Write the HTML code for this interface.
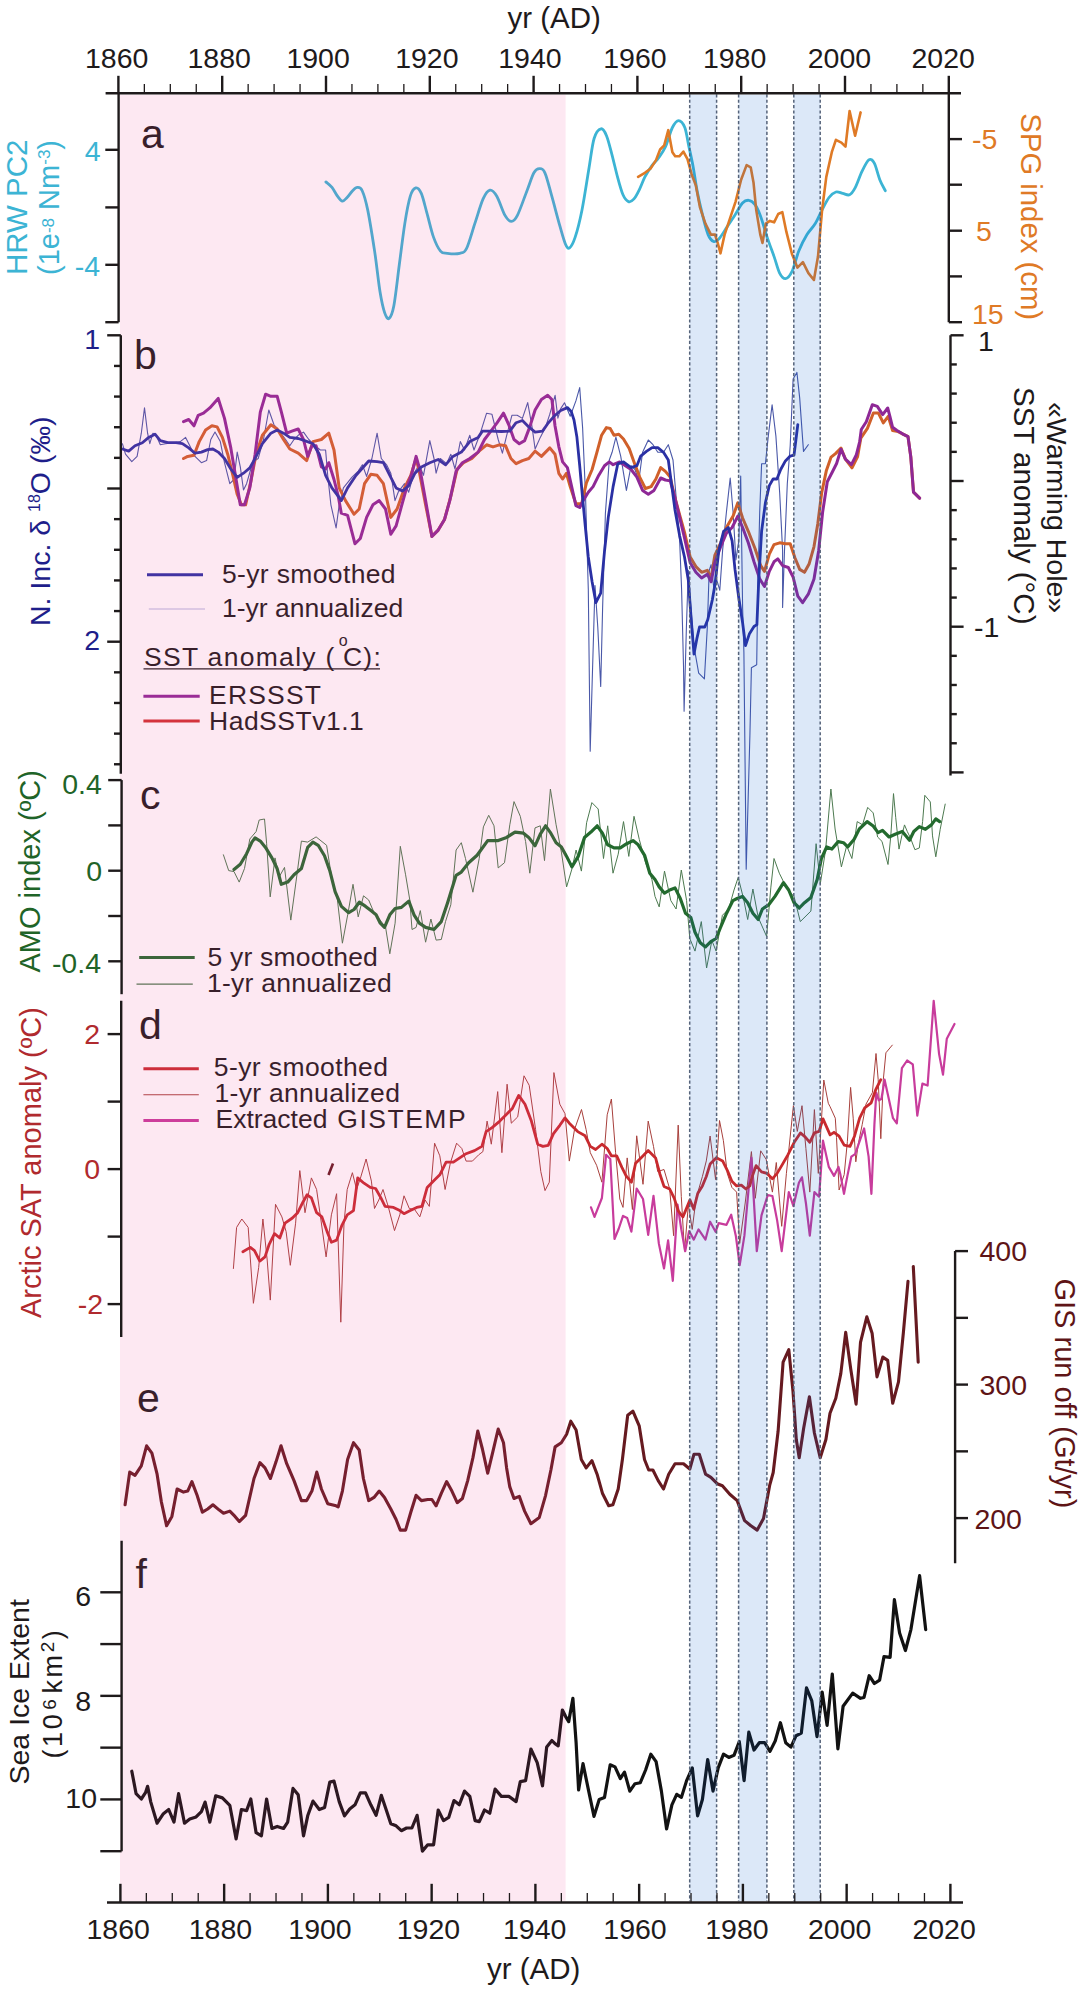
<!DOCTYPE html>
<html><head><meta charset="utf-8"><style>
html,body{margin:0;padding:0;background:#fff;overflow:hidden;}
svg{display:block;}
text{font-family:"Liberation Sans",sans-serif;}
</style></head><body>
<svg width="1092" height="1996" viewBox="0 0 1092 1996">
<rect x="0" y="0" width="1092" height="1996" fill="#fff"/>
<path d="M325.9,181.9 C326.9,182.8 330.1,185.0 332.0,187.4 C333.9,189.8 335.8,193.9 337.5,196.2 C339.2,198.5 340.8,200.9 342.4,201.1 C344.0,201.3 345.4,199.2 347.1,197.5 C348.8,195.8 350.9,192.4 352.6,190.7 C354.3,189.0 355.7,187.4 357.3,187.4 C358.9,187.4 360.5,186.9 362.2,190.7 C363.9,194.4 365.6,199.8 367.7,209.9 C369.8,220.0 372.5,237.4 374.6,251.1 C376.7,264.8 378.4,282.0 380.1,292.3 C381.8,302.6 383.2,308.5 384.7,312.9 C386.2,317.2 387.6,319.5 389.1,318.4 C390.6,317.2 392.1,314.9 393.8,306.0 C395.5,297.1 397.5,278.5 399.3,264.8 C401.1,251.1 403.0,235.0 404.8,223.6 C406.6,212.2 408.5,202.1 410.3,196.2 C412.1,190.2 414.0,188.4 415.8,187.9 C417.6,187.4 419.5,189.3 421.3,193.4 C423.1,197.5 424.8,205.3 426.8,212.6 C428.9,219.9 431.3,231.0 433.6,237.4 C435.9,243.8 438.2,248.4 440.5,251.1 C442.8,253.8 444.2,252.9 447.4,253.3 C450.6,253.7 456.5,254.1 459.7,253.3 C462.9,252.5 464.1,253.4 466.6,248.4 C469.1,243.4 472.1,231.8 474.8,223.6 C477.6,215.3 480.6,204.5 483.1,198.9 C485.6,193.3 487.6,190.6 489.9,190.1 C492.2,189.6 494.3,192.0 496.8,196.2 C499.3,200.4 502.6,211.2 505.0,215.4 C507.4,219.6 509.3,221.4 511.4,221.4 C513.5,221.4 514.8,220.5 517.4,215.4 C520.0,210.3 524.2,197.8 527.0,190.7 C529.8,183.6 531.8,176.5 533.9,172.8 C536.0,169.1 537.6,168.7 539.4,168.7 C541.2,168.7 542.8,168.2 544.9,172.8 C547.0,177.4 549.3,187.3 551.8,196.2 C554.3,205.1 557.7,218.4 560.0,226.4 C562.3,234.4 563.9,240.6 565.5,244.2 C567.1,247.8 568.0,248.9 569.6,247.8 C571.2,246.7 573.0,243.7 575.1,237.4 C577.2,231.1 579.7,221.4 582.0,209.9 C584.3,198.4 586.9,180.6 588.9,168.7 C590.9,156.8 592.1,145.2 594.1,138.5 C596.1,131.8 598.9,129.3 601.0,128.8 C603.1,128.3 604.7,131.3 606.5,135.7 C608.3,140.0 610.2,148.0 612.0,154.9 C613.8,161.8 615.7,170.2 617.5,176.9 C619.3,183.6 621.2,190.7 623.0,194.8 C624.8,198.9 626.7,200.9 628.5,201.6 C630.3,202.3 632.2,200.9 634.0,198.9 C635.8,196.9 637.7,193.0 639.5,189.3 C641.3,185.6 642.9,180.8 644.9,176.9 C646.9,173.0 649.5,169.1 651.8,165.9 C654.1,162.7 656.4,160.9 658.7,157.7 C661.0,154.5 663.2,151.7 665.5,146.7 C667.8,141.7 670.2,131.8 672.4,127.5 C674.6,123.2 676.4,120.6 678.5,120.6 C680.6,120.6 683.1,123.2 684.8,127.5 C686.5,131.8 687.5,140.3 688.9,146.7 C690.3,153.1 691.6,158.6 693.0,165.9 C694.4,173.2 695.5,182.4 697.1,190.7 C698.7,198.9 700.8,208.1 702.6,215.4 C704.4,222.7 706.3,230.2 708.1,234.6 C709.9,238.9 711.8,240.8 713.6,241.5 C715.4,242.2 716.8,241.2 719.1,238.7 C721.4,236.2 724.6,230.5 727.4,226.4 C730.1,222.3 733.1,217.9 735.6,214.0 C738.1,210.1 740.3,205.3 742.5,203.0 C744.7,200.7 746.8,200.1 748.8,200.3 C750.8,200.5 752.9,201.9 754.8,204.4 C756.7,206.9 758.2,209.9 760.3,215.4 C762.4,220.9 764.9,230.5 767.2,237.4 C769.5,244.3 772.0,250.7 774.1,256.6 C776.2,262.6 777.7,269.4 779.6,273.1 C781.5,276.8 783.6,278.8 785.6,278.6 C787.6,278.4 789.7,276.3 791.9,271.7 C794.1,267.1 796.3,257.3 798.8,251.1 C801.3,244.9 804.2,239.2 807.0,234.6 C809.8,230.0 812.8,227.7 815.3,223.6 C817.8,219.5 819.8,214.2 822.1,209.9 C824.4,205.6 826.7,200.5 829.0,197.5 C831.3,194.5 833.6,192.7 835.9,192.0 C838.2,191.3 840.4,192.9 842.7,193.4 C845.0,193.9 847.5,195.7 849.6,194.8 C851.7,193.9 853.0,191.8 855.1,187.9 C857.2,184.0 859.7,176.1 862.0,171.4 C864.3,166.7 866.8,161.3 868.8,159.9 C870.8,158.5 872.5,159.9 874.3,163.2 C876.1,166.5 878.0,175.1 879.8,179.7 C881.6,184.3 884.4,188.9 885.3,190.7" fill="none" stroke="#3cb4d4" stroke-width="2.8" stroke-linejoin="round" stroke-linecap="round" />
<polyline points="638.1,176.9 644.9,172.8 650.4,168.7 655.9,160.4 660.1,149.5 664.2,145.3 668.3,130.2 672.4,152.2 675.2,156.3 679.3,156.3 683.4,151.6 687.5,159.1 691.6,174.2 695.8,185.2 699.9,207.1 705.4,223.6 710.9,234.6 715.0,234.6 717.7,242.9 720.5,253.3 724.6,234.6 730.1,218.1 735.6,201.6 741.1,179.7 746.6,165.1 750.7,167.3 753.5,182.4 756.2,209.9 760.3,234.6 762.5,242.9 765.8,223.6 769.9,220.9 774.1,222.3 778.2,214.0 782.3,212.1 786.4,231.9 791.9,253.8 797.4,267.6 802.9,262.1 808.4,273.1 813.9,279.9 818.0,256.6 822.1,209.9 826.3,176.9 831.8,152.2 835.9,139.8 841.4,142.6 845.5,146.7 849.6,111.0 855.1,135.7 860.6,112.4" fill="none" stroke="#df7a26" stroke-width="2.6" stroke-linejoin="round" stroke-linecap="round" />
<polyline points="122.4,443.7 125.5,454.2 131.8,461.6 137.1,456.4 141.3,433.2 144.5,407.9 147.6,433.2 149.8,443.7 152.9,433.2 156.1,435.3 160.3,444.8 165.5,443.7 174.0,442.7 180.3,441.6 185.6,437.4 189.8,445.8 195.0,456.4 201.4,462.7 206.6,460.6 210.8,439.5 215.0,432.1 220.3,441.6 224.5,462.7 229.8,483.7 234.0,479.5 237.2,452.1 240.3,466.9 243.5,490.0 246.6,483.7 250.8,469.0 255.1,460.6 258.2,458.5 263.5,439.5 268.8,410.0 274.0,424.8 279.3,431.1 285.6,439.5 289.8,445.8 294.0,439.5 298.2,435.3 303.5,432.1 308.8,439.5 315.1,445.8 320.3,450.0 325.6,450.0 327.7,475.3 330.9,504.8 336.1,528.0 339.2,504.8 343.4,487.9 351.8,477.4 358.2,471.1 362.4,464.8 366.6,476.4 371.9,458.5 377.1,433.2 381.3,458.5 386.6,464.8 390.8,473.2 395.0,500.6 398.2,492.2 404.5,483.7 408.7,492.2 414.0,473.2 419.2,464.8 423.5,475.3 429.8,440.6 434.0,458.5 436.1,473.2 440.3,458.5 446.6,463.7 450.8,454.2 455.0,469.0 460.3,441.6 464.5,450.0 469.8,435.3 474.0,450.0 480.3,433.2 486.6,413.2 491.9,414.2 498.2,439.5 502.4,453.2 506.7,435.3 511.9,415.3 517.2,415.3 522.4,418.4 527.7,402.6 531.9,425.8 535.1,449.0 540.3,437.4 545.6,426.9 549.8,414.2 555.1,395.3 557.9,418.1 560.7,408.6 564.5,402.8 570.2,416.2 575.9,400.9 579.7,387.6 582.6,427.6 585.5,494.2 588.3,589.4 590.2,751.2 592.1,684.6 595.0,585.6 597.8,627.5 600.7,686.5 602.6,608.4 605.4,513.3 609.3,460.0 612.1,452.3 615.9,437.1 620.7,456.1 626.4,490.4 631.1,465.7 635.0,469.5 638.8,480.9 642.6,452.3 648.3,440.0 653.0,444.7 657.8,452.3 663.5,452.3 668.3,444.7 673.0,460.0 675.9,494.2 679.7,541.8 681.6,589.4 683.5,665.5 684.1,711.3 686.4,627.5 688.3,570.4 690.2,598.9 694.0,646.5 698.7,673.2 704.4,678.9 707.3,627.5 709.2,570.4 711.1,564.7 714.0,589.4 716.8,579.9 719.8,590.3 722.6,550.4 726.4,512.3 730.2,478.0 733.1,512.3 735.9,559.9 738.8,540.9 740.7,476.1 742.6,607.5 743.9,652.6 746.2,869.2 749.9,735.3 751.4,667.7 756.7,664.7 757.8,588.4 759.7,512.3 761.6,463.8 765.4,463.8 768.3,436.1 772.1,404.7 775.9,436.1 779.7,493.3 782.6,550.4 782.6,607.5 784.5,550.4 787.3,483.7 790.2,445.7 793.1,379.0 796.9,372.4 799.7,398.1 803.5,451.4 808.3,444.7" fill="none" stroke="#4a58a8" stroke-width="1.1" stroke-linejoin="round" stroke-linecap="round" />
<polyline points="183.5,458.5 187.7,456.4 194.0,455.3 199.2,441.6 205.6,430.0 211.9,425.8 217.1,426.9 222.4,437.4 227.7,454.2 232.9,475.3 237.2,494.3 241.4,504.8 245.6,504.8 250.8,481.6 256.1,454.2 262.4,435.3 270.9,424.8 277.2,429.0 283.5,439.5 289.8,449.0 298.2,453.2 306.7,460.6 313.0,441.6 321.4,439.5 328.8,433.2 334.0,450.0 339.2,487.9 345.5,500.6 354.0,514.3 359.2,509.0 364.5,483.7 370.8,474.3 377.1,475.3 383.4,483.7 390.8,517.4 397.1,509.0 404.5,487.9 410.8,475.3 416.1,458.5 419.2,471.1 425.6,504.8 431.9,536.4 438.2,530.1 444.5,519.5 450.8,496.4 457.2,469.0 463.5,462.7 471.9,458.5 480.3,450.0 486.6,444.8 493.0,446.9 499.3,444.8 505.6,445.8 510.9,458.5 516.1,463.7 522.4,460.6 528.8,458.5 535.1,451.1 541.4,456.4 549.8,447.9 555.0,454.2 558.8,473.3 562.6,479.0 566.4,473.3 570.2,486.6 575.9,503.7 581.7,503.7 586.4,482.8 592.1,469.5 596.9,452.3 601.6,435.2 606.4,427.6 610.2,428.5 614.0,435.2 618.8,434.3 623.5,439.0 629.2,448.5 634.0,461.9 639.7,477.1 645.4,488.5 651.1,486.6 655.9,479.0 660.7,467.6 665.4,471.4 670.2,477.1 674.0,494.2 678.7,511.4 684.5,532.3 690.2,557.0 695.9,566.6 701.6,572.3 707.3,570.4 711.1,578.0 714.9,555.1 720.7,542.8 726.4,527.5 733.1,516.1 737.8,502.8 742.6,518.0 748.3,531.3 755.0,548.5 760.7,565.6 764.5,571.3 769.3,554.2 774.0,544.7 779.7,542.8 785.4,543.7 790.2,543.7 795.0,558.0 799.7,569.4 804.5,572.3 809.2,563.7 814.0,546.6 817.8,523.7 821.6,493.3 826.4,470.4 831.1,457.1 835.5,453.6 841.0,448.1 845.4,459.1 852.0,467.9 857.5,456.9 860.8,438.2 867.4,428.4 873.4,413.0 878.4,413.0 883.3,422.9 888.2,416.3 892.6,430.5 898.1,431.6 902.5,433.8 908.0,436.6 910.8,456.9 913.5,492.1 919.6,498.1" fill="none" stroke="#d0602a" stroke-width="3" stroke-linejoin="round" stroke-linecap="round" />
<polyline points="183.5,421.6 188.7,419.5 194.0,425.8 198.2,415.3 203.5,413.2 209.8,407.9 218.2,398.4 224.5,418.4 230.8,447.9 236.1,479.5 240.3,504.8 244.5,504.8 249.8,487.9 255.1,454.2 260.3,412.1 265.6,394.2 270.9,396.3 277.2,396.3 281.4,412.1 286.7,433.2 291.9,431.1 298.2,429.0 303.5,439.5 307.7,456.4 311.9,445.8 316.1,445.8 321.4,466.9 325.6,469.0 328.8,462.7 334.0,479.5 338.3,496.4 341.3,513.2 347.6,515.3 355.0,543.8 360.3,538.5 366.6,517.4 372.9,504.8 379.2,500.6 385.5,509.0 390.8,534.3 396.1,525.9 401.3,506.9 406.6,487.9 411.9,473.2 416.1,456.4 420.3,471.1 425.6,500.6 431.9,536.4 438.2,530.1 444.5,519.5 449.8,500.6 456.1,471.1 462.4,462.7 469.8,458.5 478.2,452.1 484.5,439.5 490.9,431.1 497.2,422.7 503.5,413.2 508.8,424.8 514.0,439.5 519.3,443.7 524.6,440.6 529.8,426.9 535.1,410.0 541.4,399.5 547.7,395.3 551.9,399.5 555.0,425.7 558.8,446.6 562.6,461.9 567.4,467.6 571.2,484.7 575.9,505.6 579.7,507.5 583.6,499.9 588.3,492.3 593.1,486.6 598.8,475.2 604.5,465.7 609.3,461.9 613.1,464.7 619.7,461.9 625.4,465.7 631.1,469.5 636.9,477.1 642.6,490.4 648.3,494.2 654.0,490.4 660.7,478.0 665.4,480.0 670.2,480.9 674.0,494.2 678.7,513.3 684.5,538.0 690.2,562.8 695.9,572.3 701.6,578.0 707.3,574.2 711.1,581.8 714.9,562.8 720.7,546.6 726.4,533.2 732.1,527.5 737.8,516.1 742.6,527.5 748.3,542.8 754.0,561.8 759.7,578.9 764.5,586.5 769.3,571.3 774.0,561.8 777.8,558.9 782.6,565.6 788.3,567.5 793.1,577.0 797.8,596.1 802.6,602.7 808.3,594.2 814.0,578.9 818.7,550.4 822.6,512.3 827.3,481.8 832.2,472.3 836.6,463.5 841.0,449.2 845.4,459.1 851.4,464.6 856.4,454.7 859.7,441.5 861.3,429.5 866.3,421.8 872.3,404.7 877.3,406.4 882.7,414.6 887.7,408.0 889.9,416.3 892.6,427.3 897.0,430.5 902.5,433.8 908.0,436.6 910.8,456.9 913.5,492.1 919.6,498.1" fill="none" stroke="#8e2896" stroke-width="3" stroke-linejoin="round" stroke-linecap="round" />
<polyline points="122.4,449.0 128.7,451.1 135.0,445.8 142.4,442.7 148.7,437.4 155.0,434.2 160.3,440.6 167.7,442.7 176.1,442.7 182.4,443.7 188.7,447.9 195.0,453.2 201.4,452.1 207.7,449.6 212.9,449.0 218.2,452.1 224.5,458.5 230.8,469.0 237.2,477.4 243.5,473.2 249.8,467.9 255.1,458.5 262.4,443.7 270.9,433.2 277.2,430.0 283.5,433.2 289.8,437.4 298.2,438.5 304.6,440.6 313.0,443.7 319.3,454.2 325.6,475.3 331.9,487.9 338.3,496.4 341.3,500.6 347.6,487.9 356.1,475.3 364.5,465.8 368.7,461.0 377.1,461.6 383.4,462.7 389.8,475.3 396.1,487.9 402.4,491.1 408.7,485.8 415.0,473.2 421.4,466.9 429.8,462.7 438.2,459.5 445.6,464.8 452.9,456.4 461.4,452.1 469.8,441.6 478.2,437.4 482.4,431.1 490.9,431.1 501.4,431.5 509.8,431.1 516.1,422.7 522.4,420.5 528.8,426.9 535.1,432.1 542.5,431.1 547.7,423.7 554.0,416.3 560.7,410.5 567.4,407.6 571.2,411.4 574.0,420.0 576.9,437.1 579.7,465.7 582.6,498.0 585.5,528.5 588.3,557.0 592.1,581.8 595.9,602.7 600.7,593.2 604.5,551.3 608.3,517.1 613.1,486.6 617.8,463.8 623.5,461.9 631.1,467.6 636.9,465.7 640.7,456.1 646.4,451.4 652.1,447.6 657.8,447.6 663.5,452.3 668.3,460.0 671.1,480.9 674.9,509.4 679.7,536.1 684.5,557.0 688.3,579.9 691.1,618.0 694.0,654.1 696.8,638.9 699.5,627.0 704.8,627.0 707.8,619.5 712.3,600.0 715.0,584.6 718.8,550.4 723.6,531.3 728.3,527.5 732.1,540.9 735.0,569.4 738.8,598.0 742.6,622.7 745.5,645.5 749.3,634.1 754.0,626.5 756.9,624.6 758.8,578.9 761.6,531.3 765.4,502.8 769.3,485.6 773.1,479.0 776.9,479.0 780.7,469.5 785.4,460.9 790.2,456.1 794.0,455.2 795.9,440.0 797.8,424.7" fill="none" stroke="#2a30a4" stroke-width="2.8" stroke-linejoin="round" stroke-linecap="round" />
<polyline points="223.4,854.8 228.7,870.6 234.0,871.6 239.2,882.1 244.5,868.5 249.8,839.0 256.1,831.6 259.2,820.0 264.5,819.0 266.6,843.2 270.2,896.9 275.0,857.9 279.2,876.9 284.5,867.4 290.8,920.1 296.1,881.1 301.4,841.1 307.7,842.1 316.1,836.9 326.6,845.3 331.9,879.0 337.2,897.9 342.4,943.2 347.7,914.8 353.0,884.3 358.2,916.9 363.5,895.8 368.7,900.0 374.0,912.7 379.3,919.0 385.6,927.4 389.8,953.8 395.1,923.2 400.3,846.3 405.6,874.8 409.8,900.0 412.0,929.5 416.1,927.4 420.3,910.6 425.6,942.2 430.9,919.0 436.1,940.1 441.3,939.5 445.5,921.6 450.8,904.8 456.1,850.0 461.3,842.7 465.5,858.5 472.9,892.2 479.2,858.5 483.4,826.9 488.7,815.3 494.0,825.8 498.2,867.9 504.5,862.7 509.8,824.8 514.0,801.6 520.3,816.3 525.6,841.6 529.8,873.2 535.0,827.9 540.3,825.8 544.5,860.6 550.4,789.0 556.1,824.8 561.4,852.1 566.6,886.9 571.9,869.0 576.1,850.0 581.4,871.1 586.6,822.7 591.9,802.6 598.2,809.0 603.5,858.5 607.7,825.8 613.0,873.2 618.2,854.2 623.5,821.6 628.8,856.4 634.0,816.3 639.3,839.5 645.6,862.7 651.9,879.5 655.0,896.4 659.2,906.9 664.5,871.1 670.8,900.6 676.1,909.0 681.3,870.0 686.6,900.6 689.8,938.5 695.0,951.1 701.3,921.6 706.6,968.0 711.9,940.6 716.1,951.1 722.4,915.3 728.7,909.0 734.0,890.0 738.2,877.4 743.5,898.5 747.7,919.5 752.9,889.0 758.2,917.4 766.6,936.4 770.8,887.9 774.0,858.5 779.3,873.2 784.5,883.7 789.8,892.2 794.0,896.4 800.3,921.6 810.9,911.1 816.1,843.7 820.3,883.7 825.6,850.0 830.9,789.0 835.1,829.0 841.4,866.9 846.7,845.8 851.9,858.5 857.2,821.6 862.5,824.8 867.7,807.4 873.2,812.9 877.6,837.0 882.0,841.4 888.0,864.5 890.8,835.9 893.5,793.6 895.7,817.3 899.0,849.1 901.8,835.9 904.5,824.9 907.3,831.5 910.5,838.1 914.9,849.7 919.3,848.0 922.6,821.6 924.8,795.3 930.3,801.9 932.5,835.9 935.8,856.8 940.2,829.3 945.2,804.1" fill="none" stroke="#4d7a50" stroke-width="1.0" stroke-linejoin="round" stroke-linecap="round" />
<polyline points="234.0,869.5 240.3,864.2 246.6,853.7 251.9,842.1 255.0,837.9 260.3,841.1 265.5,847.4 271.9,857.9 277.1,868.5 281.3,884.3 287.7,882.1 294.0,874.8 301.4,868.5 307.7,847.4 312.9,842.1 318.2,845.3 324.5,855.8 329.8,870.6 335.1,891.6 341.4,906.4 348.7,912.7 354.0,909.5 359.3,902.2 365.6,906.4 370.9,910.6 376.1,914.8 380.3,923.2 384.5,927.4 389.8,914.8 395.1,908.5 401.4,907.4 408.8,901.1 414.0,914.8 419.3,923.2 425.6,927.4 434.0,929.5 441.3,921.6 447.6,902.7 456.1,875.3 461.3,872.1 468.7,862.7 477.1,855.3 487.7,840.6 498.2,840.6 506.6,837.4 515.0,832.1 523.5,833.2 528.7,837.4 535.0,845.8 540.3,834.2 545.6,825.8 550.8,833.2 556.1,842.7 561.4,846.9 566.6,856.4 571.9,866.9 578.2,856.4 584.5,837.4 590.9,832.1 597.2,825.8 602.4,833.2 607.7,844.8 614.0,847.9 620.3,847.9 626.7,843.7 633.0,840.6 638.2,844.8 644.6,855.3 649.8,873.2 655.0,879.5 659.2,886.9 664.5,893.2 669.7,890.0 675.0,887.9 680.3,898.5 685.5,913.2 690.8,917.4 695.0,932.2 700.3,942.7 705.5,946.9 710.8,941.7 716.1,938.5 720.3,928.0 726.6,913.2 732.9,900.6 737.1,898.5 742.4,896.4 747.7,902.7 752.9,913.2 758.2,919.5 762.4,909.0 768.7,904.8 775.0,896.4 783.5,882.7 788.7,890.0 794.0,902.7 799.3,908.0 804.5,902.7 810.9,897.4 817.2,879.5 821.4,858.5 826.7,846.9 831.9,849.0 838.2,841.6 843.5,842.7 847.7,846.9 854.0,839.5 859.3,829.0 867.1,821.6 873.2,826.0 878.1,832.6 882.5,830.4 889.1,837.0 895.2,834.3 902.3,831.5 909.5,840.3 913.8,831.5 919.3,826.6 925.4,829.3 931.4,824.9 935.8,818.9 939.7,821.6" fill="none" stroke="#236a2e" stroke-width="3.2" stroke-linejoin="round" stroke-linecap="round" />
<polyline points="233.4,1268.5 236.6,1227.4 241.8,1219.0 248.2,1227.4 253.4,1303.3 258.7,1267.4 262.9,1219.0 267.1,1259.0 270.3,1300.1 275.5,1204.3 281.9,1216.9 286.1,1231.6 290.3,1265.3 295.6,1223.2 299.8,1170.6 305.0,1212.7 311.4,1177.9 316.6,1189.5 320.8,1219.0 326.1,1256.9 331.4,1214.8 336.6,1193.7 340.8,1322.2 344.0,1223.2 347.2,1189.5 352.4,1172.7 356.6,1189.5 360.8,1176.9 366.1,1159.0 371.4,1181.1 374.5,1208.5 378.8,1200.0 383.0,1189.5 388.2,1206.4 394.5,1230.6 399.8,1214.8 404.0,1195.8 409.3,1208.5 414.6,1209.5 419.8,1216.9 425.1,1200.0 429.3,1206.4 434.6,1143.2 439.8,1155.8 445.1,1189.5 450.3,1163.2 456.6,1143.2 461.8,1148.5 466.1,1161.1 472.4,1161.1 478.7,1154.8 482.9,1151.6 487.1,1121.1 491.3,1144.2 497.7,1091.6 501.9,1152.7 507.1,1084.2 511.3,1123.2 517.7,1116.9 524.0,1075.8 529.2,1085.3 535.6,1129.5 540.8,1171.6 545.0,1190.6 549.3,1182.2 553.9,1072.6 559.8,1104.2 565.0,1113.7 569.3,1161.1 574.5,1129.5 581.5,1109.5 586.1,1129.5 590.3,1152.7 596.6,1165.3 601.9,1182.2 607.2,1114.8 611.4,1099.0 615.6,1152.7 619.8,1199.0 623.0,1207.4 627.2,1157.9 632.4,1209.5 636.7,1135.8 643.0,1184.3 648.2,1121.1 653.5,1146.4 657.7,1171.6 664.0,1169.5 669.7,1189.0 673.6,1235.7 678.2,1125.1 681.3,1196.7 684.5,1251.2 688.4,1204.5 692.2,1229.4 696.1,1198.3 702.4,1176.5 706.3,1160.9 710.1,1136.0 715.6,1179.6 719.5,1120.5 723.4,1140.7 727.3,1173.4 731.9,1187.4 736.6,1192.1 739.7,1243.4 745.2,1203.0 751.4,1151.6 755.3,1198.3 760.7,1150.8 766.2,1159.4 772.4,1192.1 776.3,1162.5 781.7,1226.3 786.4,1173.4 793.4,1105.7 797.3,1131.4 802.0,1105.7 805.9,1148.5 809.8,1192.1 814.4,1109.6 818.3,1173.4 823.8,1080.0 828.3,1103.3 830.1,1106.7 835.3,1118.2 836.5,1137.4 839.1,1190.0 844.2,1174.6 847.4,1141.3 850.6,1087.4 853.2,1118.2 855.8,1161.8 858.3,1143.8 862.2,1124.6 866.0,1104.1 872.4,1092.6 876.0,1053.5 878.2,1079.7 880.8,1138.7 883.3,1079.7 885.9,1052.8 892.3,1045.1" fill="none" stroke="#a8403c" stroke-width="1.0" stroke-linejoin="round" stroke-linecap="round" />
<polyline points="591.0,1207.4 594.5,1216.9 601.9,1198.0 606.1,1154.8 610.3,1159.0 614.5,1239.0 618.8,1228.5 623.0,1215.9 627.2,1218.0 631.4,1231.6 636.7,1188.5 643.0,1199.0 648.2,1234.8 653.5,1195.8 658.8,1243.2 664.0,1268.5 668.1,1240.3 672.8,1280.8 677.5,1204.5 681.3,1229.4 685.2,1251.2 689.1,1231.0 693.8,1239.6 698.5,1229.4 705.5,1239.6 710.1,1221.7 715.6,1231.8 718.7,1223.2 726.5,1224.8 731.2,1214.7 735.8,1235.7 739.7,1265.2 744.4,1235.7 751.4,1157.8 756.8,1251.2 761.5,1215.4 767.7,1195.2 772.4,1196.0 777.1,1220.1 781.7,1251.2 788.8,1192.1 793.4,1206.1 798.9,1182.7 802.0,1177.3 805.9,1203.0 809.8,1235.7 814.4,1192.1 819.1,1196.7 823.0,1140.7 828.8,1166.9 834.0,1175.9 838.5,1166.9 840.4,1174.6 844.0,1193.8 847.4,1175.9 851.3,1156.7 855.1,1154.1 864.1,1128.5 868.6,1156.7 871.4,1193.8 874.4,1124.6 876.3,1092.6 878.8,1100.3 881.4,1099.0 884.6,1079.7 889.1,1100.3 893.0,1118.2 896.8,1123.3 901.9,1068.2 907.1,1060.5 912.8,1064.4 917.3,1115.6 922.4,1083.6 927.6,1085.5 933.7,1000.9 939.1,1054.1 943.0,1074.6 946.8,1038.7 954.5,1024.0" fill="none" stroke="#c83c9c" stroke-width="2.2" stroke-linejoin="round" stroke-linecap="round" />
<polyline points="242.9,1251.7 250.3,1247.4 254.5,1250.6 259.8,1261.1 265.0,1256.9 269.2,1244.3 274.5,1233.7 279.8,1238.0 285.0,1223.2 292.4,1218.0 297.7,1212.7 302.9,1202.2 307.1,1194.8 311.4,1197.9 316.6,1212.7 321.9,1216.9 327.1,1231.6 331.4,1242.2 336.6,1240.1 341.9,1225.3 347.2,1214.8 353.5,1210.6 357.7,1177.9 364.0,1183.2 370.3,1187.4 375.6,1188.5 380.9,1197.9 385.1,1206.4 393.5,1207.4 399.8,1210.6 404.0,1213.7 410.3,1210.6 416.7,1207.4 421.9,1206.4 427.2,1187.4 433.5,1181.1 439.8,1174.8 446.1,1162.1 453.4,1162.1 466.1,1153.7 474.5,1150.6 481.9,1146.4 486.1,1131.6 492.4,1127.4 499.8,1121.1 506.1,1114.8 512.4,1108.4 518.7,1095.4 525.0,1104.2 531.4,1121.1 537.7,1144.2 542.9,1146.4 548.2,1145.3 553.5,1133.7 559.8,1125.3 565.0,1117.9 569.3,1123.2 577.7,1131.6 585.1,1135.8 590.3,1146.4 595.6,1149.5 601.9,1144.2 607.2,1148.5 611.4,1155.8 616.7,1155.8 621.9,1167.4 626.1,1175.8 631.4,1182.2 635.6,1163.2 641.9,1156.9 648.2,1150.6 655.6,1157.9 659.8,1173.7 664.0,1186.4 669.7,1189.0 674.3,1198.3 678.2,1210.8 682.9,1217.0 686.8,1207.6 689.9,1199.9 693.8,1209.2 697.7,1193.6 702.4,1185.9 706.3,1176.5 710.1,1164.1 716.4,1157.8 722.6,1160.9 727.3,1170.3 731.9,1181.2 736.6,1185.9 741.3,1185.1 745.9,1189.0 749.8,1185.9 752.2,1176.5 756.1,1165.6 761.5,1171.8 767.0,1173.4 772.4,1178.8 777.1,1173.4 781.7,1165.6 788.0,1154.7 794.2,1142.3 800.4,1132.9 805.1,1136.8 809.8,1142.3 814.4,1132.9 819.1,1131.4 823.0,1118.9 830.1,1134.9 834.0,1132.3 839.1,1136.2 844.2,1145.1 850.0,1146.4 854.5,1136.2 859.6,1118.2 864.7,1107.9 871.2,1102.8 875.6,1090.0 880.8,1079.7" fill="none" stroke="#c82a2e" stroke-width="2.8" stroke-linejoin="round" stroke-linecap="round" />
<line x1="328.5" y1="1175" x2="333" y2="1163.5" stroke="#661a20" stroke-width="2.6"/>
<polyline points="125.1,1504.8 129.7,1472.1 135.0,1475.3 141.3,1465.8 146.6,1445.8 151.9,1453.2 157.1,1474.2 161.3,1501.6 166.6,1525.8 171.9,1516.4 177.1,1489.0 183.5,1492.1 187.7,1491.1 191.9,1481.6 197.1,1495.3 202.4,1512.2 207.7,1509.0 212.9,1504.8 219.3,1510.1 223.5,1513.2 229.8,1511.1 235.0,1516.4 239.3,1521.6 245.6,1515.3 254.0,1478.5 259.9,1462.7 265.0,1467.9 270.4,1478.5 276.1,1461.6 281.0,1445.8 286.7,1463.7 294.0,1480.6 301.4,1500.6 306.7,1500.6 311.9,1491.1 316.8,1472.1 321.4,1489.0 327.7,1503.7 336.1,1505.8 338.2,1506.9 342.4,1491.1 347.6,1459.5 353.5,1442.7 359.2,1450.0 363.4,1478.5 368.7,1500.6 374.0,1497.4 379.2,1491.1 384.5,1497.4 390.8,1509.0 396.1,1519.5 400.3,1530.1 405.6,1530.1 410.8,1512.2 416.1,1495.3 421.4,1500.6 427.7,1499.5 431.9,1499.5 436.1,1505.8 441.4,1493.2 446.6,1481.6 451.9,1491.1 457.2,1502.7 462.4,1498.5 467.7,1480.6 473.0,1457.4 477.8,1431.1 482.4,1449.0 487.7,1473.2 493.0,1451.1 498.2,1429.0 503.5,1442.7 506.6,1467.9 509.8,1486.9 514.0,1498.5 519.3,1496.4 524.6,1511.1 530.9,1523.7 539.3,1517.4 545.6,1495.3 550.9,1470.0 555.1,1446.9 561.3,1442.7 566.6,1434.2 570.8,1421.2 576.1,1430.0 581.3,1459.5 586.2,1467.9 591.9,1460.6 597.1,1474.2 602.4,1493.2 608.7,1505.8 612.9,1504.8 618.2,1489.0 622.4,1459.5 627.7,1415.3 632.9,1411.1 639.2,1425.8 644.5,1459.5 648.7,1470.0 652.9,1470.0 658.2,1480.6 663.5,1489.0 668.7,1474.2 675.0,1463.7 683.5,1463.7 689.8,1469.0 694.0,1454.2 699.3,1454.2 705.6,1474.2 710.9,1477.4 717.2,1483.7 722.4,1485.8 729.8,1494.3 737.2,1500.6 744.6,1520.6 750.9,1525.8 757.2,1530.1 763.5,1518.5 769.8,1484.8 773.2,1472.5 778.1,1431.3 783.1,1362.1 788.8,1349.7 793.0,1391.7 796.3,1439.5 799.2,1457.7 803.7,1428.0 809.4,1396.7 814.4,1433.0 820.2,1457.7 825.9,1439.5 830.0,1413.2 835.8,1398.3 840.8,1373.6 845.7,1332.4 850.7,1368.7 856.1,1404.1 860.5,1342.3 866.8,1316.8 872.1,1333.2 877.0,1376.9 882.8,1357.1 887.7,1360.4 892.7,1403.3 898.5,1381.9 903.4,1332.4 908.0,1281.3" fill="none" stroke="#661a20" stroke-width="3.1" stroke-linejoin="round" stroke-linecap="round" />
<polyline points="913.3,1266.5 918.2,1362.1" fill="none" stroke="#661a20" stroke-width="3.1" stroke-linejoin="round" stroke-linecap="round" />
<polyline points="131.8,1771.2 136.1,1793.7 141.3,1799.0 145.5,1792.7 147.6,1786.3 150.8,1802.1 157.1,1823.2 163.4,1813.7 168.7,1809.5 174.0,1822.1 178.6,1793.7 184.5,1823.2 189.8,1819.0 196.1,1816.9 201.4,1811.6 205.1,1802.1 209.8,1822.1 215.7,1795.8 222.4,1797.9 229.8,1805.3 236.1,1839.0 241.4,1809.5 246.6,1810.6 250.8,1799.0 256.1,1832.7 261.4,1835.8 266.6,1799.0 271.9,1828.5 277.2,1826.4 283.5,1828.5 287.7,1822.1 293.0,1788.4 298.2,1794.8 303.5,1835.8 307.7,1815.8 313.0,1801.1 319.3,1809.5 324.6,1807.4 329.8,1782.1 334.0,1781.1 339.2,1801.6 344.5,1815.9 349.7,1809.0 355.0,1804.8 360.3,1792.8 365.5,1792.8 370.8,1804.8 376.1,1815.3 381.3,1795.3 386.6,1811.1 390.8,1823.7 396.1,1825.8 401.3,1830.7 406.6,1828.0 411.9,1828.0 417.1,1815.3 422.4,1851.1 427.7,1844.8 433.6,1844.8 438.2,1810.0 443.5,1820.6 448.7,1817.4 454.0,1800.6 459.3,1804.8 464.5,1791.1 469.8,1796.4 475.1,1820.6 479.3,1821.6 484.5,1810.0 489.8,1813.2 495.1,1789.0 501.4,1796.4 508.8,1796.4 516.1,1801.6 520.3,1781.6 525.6,1780.6 530.9,1749.0 537.2,1762.7 542.5,1785.8 546.7,1746.9 551.9,1740.5 555.0,1743.7 558.2,1745.8 562.4,1710.0 565.5,1716.3 568.7,1721.6 572.9,1698.4 576.1,1742.7 578.6,1790.0 583.0,1763.7 588.7,1791.1 594.0,1816.4 599.2,1799.5 604.5,1797.4 610.2,1764.8 615.0,1766.9 620.3,1778.5 624.5,1772.1 629.8,1791.1 635.0,1783.7 640.3,1782.7 645.6,1770.0 650.8,1754.2 656.1,1761.6 661.4,1791.1 666.6,1829.0 671.9,1804.8 676.7,1794.3 681.4,1797.4 686.6,1780.6 692.3,1767.9 697.6,1815.9 702.4,1799.5 707.7,1759.5 713.0,1791.1 718.2,1767.9 723.5,1754.2 728.8,1757.4 734.0,1755.3 739.3,1741.6 744.1,1780.6 748.8,1732.1 754.0,1750.0 759.3,1742.7 764.6,1742.7 770.0,1751.4 775.2,1741.0 780.4,1722.7 785.7,1742.7 790.9,1747.1 796.1,1735.7 801.3,1733.1 806.5,1687.9 811.8,1700.9 817.0,1736.6 822.2,1692.2 827.1,1725.3 832.3,1674.0 837.9,1748.8 843.1,1706.2 852.7,1693.1 860.5,1698.3 864.0,1697.5 869.2,1675.7 874.4,1683.5 879.6,1680.1 884.0,1656.6 890.1,1657.4 894.4,1599.7 899.6,1633.1 905.4,1650.5 910.9,1629.6 919.6,1575.7 925.7,1629.6" fill="none" stroke="#121212" stroke-width="3.2" stroke-linejoin="round" stroke-linecap="round" />
<text x="116.65" y="68.2" font-size="28.5" fill="#1e1a1b" text-anchor="middle" >1860</text>
<text x="118.2" y="1939.1" font-size="28.5" fill="#1e1a1b" text-anchor="middle" >1860</text>
<text x="219.2" y="68.2" font-size="28.5" fill="#1e1a1b" text-anchor="middle" >1880</text>
<text x="220.4" y="1939.1" font-size="28.5" fill="#1e1a1b" text-anchor="middle" >1880</text>
<text x="318.1" y="68.2" font-size="28.5" fill="#1e1a1b" text-anchor="middle" >1900</text>
<text x="320.0" y="1939.1" font-size="28.5" fill="#1e1a1b" text-anchor="middle" >1900</text>
<text x="426.85" y="68.2" font-size="28.5" fill="#1e1a1b" text-anchor="middle" >1920</text>
<text x="428.4" y="1939.1" font-size="28.5" fill="#1e1a1b" text-anchor="middle" >1920</text>
<text x="529.9" y="68.2" font-size="28.5" fill="#1e1a1b" text-anchor="middle" >1940</text>
<text x="534.7" y="1939.1" font-size="28.5" fill="#1e1a1b" text-anchor="middle" >1940</text>
<text x="634.95" y="68.2" font-size="28.5" fill="#1e1a1b" text-anchor="middle" >1960</text>
<text x="635.0" y="1939.1" font-size="28.5" fill="#1e1a1b" text-anchor="middle" >1960</text>
<text x="734.6" y="68.2" font-size="28.5" fill="#1e1a1b" text-anchor="middle" >1980</text>
<text x="736.9" y="1939.1" font-size="28.5" fill="#1e1a1b" text-anchor="middle" >1980</text>
<text x="839.45" y="68.2" font-size="28.5" fill="#1e1a1b" text-anchor="middle" >2000</text>
<text x="839.7" y="1939.1" font-size="28.5" fill="#1e1a1b" text-anchor="middle" >2000</text>
<text x="943.15" y="68.2" font-size="28.5" fill="#1e1a1b" text-anchor="middle" >2020</text>
<text x="944.1" y="1939.1" font-size="28.5" fill="#1e1a1b" text-anchor="middle" >2020</text>
<text x="507.5" y="28.2" font-size="29.5" fill="#1e1a1b" text-anchor="start" >yr (AD)</text>
<text x="487" y="1978.8" font-size="29.5" fill="#1e1a1b" text-anchor="start" >yr (AD)</text>
<text x="141" y="147.7" font-size="41" fill="#1e1a1b" text-anchor="start" >a</text>
<text x="134" y="368.5" font-size="41" fill="#1e1a1b" text-anchor="start" >b</text>
<text x="140" y="808.5" font-size="41" fill="#1e1a1b" text-anchor="start" >c</text>
<text x="139" y="1038.5" font-size="41" fill="#1e1a1b" text-anchor="start" >d</text>
<text x="137" y="1411.5" font-size="41" fill="#1e1a1b" text-anchor="start" >e</text>
<text x="135.5" y="1587.8" font-size="41" fill="#1e1a1b" text-anchor="start" >f</text>
<text x="100.5" y="160.6" font-size="28.5" fill="#3cb4d4" text-anchor="end" >4</text>
<text x="100" y="276.2" font-size="28.5" fill="#3cb4d4" text-anchor="end" >-4</text>
<text x="972" y="149" font-size="28.5" fill="#df7a26" text-anchor="start" >-5</text>
<text x="976" y="241" font-size="28.5" fill="#df7a26" text-anchor="start" >5</text>
<text x="972" y="323.5" font-size="28.5" fill="#df7a26" text-anchor="start" >15</text>
<text transform="translate(26.9,275) rotate(-90)" font-size="29.5" fill="#3cb4d4">HRW PC2</text>
<text transform="translate(58.6,275) rotate(-90)" font-size="29" fill="#3cb4d4">(1e<tspan font-size="17" dy="-5">-8</tspan><tspan dy="5"> Nm</tspan><tspan font-size="17" dy="-9">-3</tspan><tspan dy="9">)</tspan></text>
<text transform="translate(1021,113.3) rotate(90)" font-size="29.3" fill="#df7a26">SPG index (cm)</text>
<text x="100" y="349.3" font-size="28.5" fill="#1e1e8a" text-anchor="end" >1</text>
<text x="100" y="650" font-size="28.5" fill="#1e1e8a" text-anchor="end" >2</text>
<text x="978" y="351" font-size="28.5" fill="#1e1a1b" text-anchor="start" >1</text>
<text x="974" y="637" font-size="28.5" fill="#1e1a1b" text-anchor="start" >-1</text>
<text transform="translate(50.2,626) rotate(-90)" font-size="28.5" fill="#1e1e8a">N. Inc. δ <tspan font-size="16" dy="-10">18</tspan><tspan dy="10">O (‰)</tspan></text>
<text transform="translate(1047,402) rotate(90)" font-size="28.5" fill="#1e1a1b">«Warming Hole»</text>
<text transform="translate(1013.5,387) rotate(90)" font-size="29.5" fill="#1e1a1b">SST anomaly (°C)</text>
<line x1="147" y1="574.7" x2="203" y2="574.7" stroke="#2a30a4" stroke-width="3"/>
<text x="222" y="582.8" font-size="26.5" fill="#1e1a1b" text-anchor="start" letter-spacing="0.35">5-yr smoothed</text>
<line x1="148.8" y1="609" x2="205" y2="609" stroke="#b8b8e0" stroke-width="1.2"/>
<text x="222" y="616.5" font-size="26.5" fill="#1e1a1b" text-anchor="start" >1-yr annualized</text>
<text x="144" y="665.8" font-size="26.5" fill="#1e1a1b" text-anchor="start" letter-spacing="1.3">SST anomaly (<tspan font-size="16" dx="3" dy="-20">o</tspan><tspan dx="-6" dy="20">C):</tspan></text>
<line x1="143.5" y1="668.8" x2="380" y2="668.8" stroke="#1e1a1b" stroke-width="1.3"/>
<line x1="143.4" y1="696.2" x2="199.7" y2="696.2" stroke="#8e2896" stroke-width="3"/>
<text x="209" y="703.5" font-size="26.5" fill="#1e1a1b" text-anchor="start" letter-spacing="1.2">ERSSST</text>
<line x1="143.4" y1="720.9" x2="199.7" y2="720.9" stroke="#d03030" stroke-width="3"/>
<text x="209" y="730" font-size="26.5" fill="#1e1a1b" text-anchor="start" letter-spacing="0.5">HadSSTv1.1</text>
<text x="101.8" y="793.8" font-size="28.5" fill="#1f6428" text-anchor="end" >0.4</text>
<text x="102" y="881" font-size="28.5" fill="#1f6428" text-anchor="end" >0</text>
<text x="101" y="973.3" font-size="28.5" fill="#1f6428" text-anchor="end" >-0.4</text>
<text transform="translate(40.4,972.5) rotate(-90)" font-size="29" fill="#1f6428">AMO index (ºC)</text>
<line x1="139.2" y1="957.5" x2="194.7" y2="957.5" stroke="#236a2e" stroke-width="3.2"/>
<text x="207.5" y="966.3" font-size="26.5" fill="#1e1a1b" text-anchor="start" letter-spacing="0.2">5 yr smoothed</text>
<line x1="136.5" y1="984.1" x2="192.8" y2="984.1" stroke="#4d7a50" stroke-width="1.1"/>
<text x="207" y="991.8" font-size="26.5" fill="#1e1a1b" text-anchor="start" letter-spacing="0.25">1-yr annualized</text>
<text x="100" y="1044" font-size="28.5" fill="#b02a2e" text-anchor="end" >2</text>
<text x="100" y="1179" font-size="28.5" fill="#b02a2e" text-anchor="end" >0</text>
<text x="103" y="1314" font-size="28.5" fill="#b02a2e" text-anchor="end" >-2</text>
<text transform="translate(40.7,1318) rotate(-90)" font-size="29" fill="#b02a2e">Arctic SAT anomaly (ºC)</text>
<line x1="143.4" y1="1068.7" x2="198.8" y2="1068.7" stroke="#c82a2e" stroke-width="3"/>
<text x="213.8" y="1075.6" font-size="26.5" fill="#1e1a1b" text-anchor="start" letter-spacing="0.4">5-yr smoothed</text>
<line x1="143.4" y1="1094.8" x2="198.8" y2="1094.8" stroke="#a8403c" stroke-width="1.1"/>
<text x="214.5" y="1101.7" font-size="26.5" fill="#1e1a1b" text-anchor="start" letter-spacing="0.3">1-yr annualized</text>
<line x1="143.4" y1="1120.4" x2="198.8" y2="1120.4" stroke="#c83c9c" stroke-width="3"/>
<text x="215.5" y="1127.6" font-size="26.5" fill="#1e1a1b" text-anchor="start" >Extracted <tspan dx="2.5" letter-spacing="1.5">GISTEMP</tspan></text>
<text x="979.5" y="1261.2" font-size="28.5" fill="#5e1416" text-anchor="start" >400</text>
<text x="979.5" y="1394.8" font-size="28.5" fill="#5e1416" text-anchor="start" >300</text>
<text x="974.4" y="1528.5" font-size="28.5" fill="#5e1416" text-anchor="start" >200</text>
<text transform="translate(1054.5,1278.5) rotate(90)" font-size="29" fill="#5e1416">GIS run off (Gt/yr)</text>
<text x="91" y="1606" font-size="28.5" fill="#1e1a1b" text-anchor="end" >6</text>
<text x="91" y="1710.5" font-size="28.5" fill="#1e1a1b" text-anchor="end" >8</text>
<text x="97" y="1808" font-size="28.5" fill="#1e1a1b" text-anchor="end" >10</text>
<text transform="translate(29.2,1784.5) rotate(-90)" font-size="28.5" fill="#1e1a1b">Sea Ice Extent</text>
<text transform="translate(61.5,1758.5) rotate(-90)" font-size="27" letter-spacing="2.6" fill="#1e1a1b">(10<tspan font-size="19" dx="2" dy="-6">6</tspan><tspan dx="3" dy="6">km</tspan><tspan font-size="19" dy="-8">2</tspan><tspan dy="8">)</tspan></text>
<rect x="120" y="94.6" width="445.6" height="1806.6" fill="rgb(239,72,152)" fill-opacity="0.126"/>
<rect x="689.7" y="94.6" width="26.899999999999977" height="1806.6" fill="rgb(5,91,205)" fill-opacity="0.14"/>
<line x1="689.7" y1="94.3" x2="689.7" y2="1901.3" stroke="#55637a" stroke-width="1.5" stroke-dasharray="3.2 2.16"/>
<line x1="716.6" y1="94.3" x2="716.6" y2="1901.3" stroke="#55637a" stroke-width="1.5" stroke-dasharray="3.2 2.16"/>
<rect x="738.6" y="94.6" width="28.299999999999955" height="1806.6" fill="rgb(5,91,205)" fill-opacity="0.14"/>
<line x1="738.6" y1="94.3" x2="738.6" y2="1901.3" stroke="#55637a" stroke-width="1.5" stroke-dasharray="3.2 2.16"/>
<line x1="766.9" y1="94.3" x2="766.9" y2="1901.3" stroke="#55637a" stroke-width="1.5" stroke-dasharray="3.2 2.16"/>
<rect x="793.8" y="94.6" width="26.40000000000009" height="1806.6" fill="rgb(5,91,205)" fill-opacity="0.14"/>
<line x1="793.8" y1="94.3" x2="793.8" y2="1901.3" stroke="#55637a" stroke-width="1.5" stroke-dasharray="3.2 2.16"/>
<line x1="820.2" y1="94.3" x2="820.2" y2="1901.3" stroke="#55637a" stroke-width="1.5" stroke-dasharray="3.2 2.16"/>
<line x1="105.6" y1="93.2" x2="961" y2="93.2" stroke="#1e1a1b" stroke-width="2.4"/>
<line x1="118.4" y1="93.2" x2="118.4" y2="75.8" stroke="#1e1a1b" stroke-width="2.4"/>
<line x1="144.35000000000002" y1="93.2" x2="144.35000000000002" y2="84" stroke="#1e1a1b" stroke-width="1.3"/>
<line x1="170.3" y1="93.2" x2="170.3" y2="84" stroke="#1e1a1b" stroke-width="1.3"/>
<line x1="196.25" y1="93.2" x2="196.25" y2="84" stroke="#1e1a1b" stroke-width="1.3"/>
<line x1="222.20000000000002" y1="93.2" x2="222.20000000000002" y2="75.8" stroke="#1e1a1b" stroke-width="2.4"/>
<line x1="248.15" y1="93.2" x2="248.15" y2="84" stroke="#1e1a1b" stroke-width="1.3"/>
<line x1="274.1" y1="93.2" x2="274.1" y2="84" stroke="#1e1a1b" stroke-width="1.3"/>
<line x1="300.05" y1="93.2" x2="300.05" y2="84" stroke="#1e1a1b" stroke-width="1.3"/>
<line x1="326.0" y1="93.2" x2="326.0" y2="75.8" stroke="#1e1a1b" stroke-width="2.4"/>
<line x1="351.95000000000005" y1="93.2" x2="351.95000000000005" y2="84" stroke="#1e1a1b" stroke-width="1.3"/>
<line x1="377.9" y1="93.2" x2="377.9" y2="84" stroke="#1e1a1b" stroke-width="1.3"/>
<line x1="403.85" y1="93.2" x2="403.85" y2="84" stroke="#1e1a1b" stroke-width="1.3"/>
<line x1="429.80000000000007" y1="93.2" x2="429.80000000000007" y2="75.8" stroke="#1e1a1b" stroke-width="2.4"/>
<line x1="455.75" y1="93.2" x2="455.75" y2="84" stroke="#1e1a1b" stroke-width="1.3"/>
<line x1="481.70000000000005" y1="93.2" x2="481.70000000000005" y2="84" stroke="#1e1a1b" stroke-width="1.3"/>
<line x1="507.6500000000001" y1="93.2" x2="507.6500000000001" y2="84" stroke="#1e1a1b" stroke-width="1.3"/>
<line x1="533.6" y1="93.2" x2="533.6" y2="75.8" stroke="#1e1a1b" stroke-width="2.4"/>
<line x1="559.5500000000001" y1="93.2" x2="559.5500000000001" y2="84" stroke="#1e1a1b" stroke-width="1.3"/>
<line x1="585.5" y1="93.2" x2="585.5" y2="84" stroke="#1e1a1b" stroke-width="1.3"/>
<line x1="611.45" y1="93.2" x2="611.45" y2="84" stroke="#1e1a1b" stroke-width="1.3"/>
<line x1="637.4" y1="93.2" x2="637.4" y2="75.8" stroke="#1e1a1b" stroke-width="2.4"/>
<line x1="663.35" y1="93.2" x2="663.35" y2="84" stroke="#1e1a1b" stroke-width="1.3"/>
<line x1="689.3000000000001" y1="93.2" x2="689.3000000000001" y2="84" stroke="#1e1a1b" stroke-width="1.3"/>
<line x1="715.25" y1="93.2" x2="715.25" y2="84" stroke="#1e1a1b" stroke-width="1.3"/>
<line x1="741.2" y1="93.2" x2="741.2" y2="75.8" stroke="#1e1a1b" stroke-width="2.4"/>
<line x1="767.15" y1="93.2" x2="767.15" y2="84" stroke="#1e1a1b" stroke-width="1.3"/>
<line x1="793.1" y1="93.2" x2="793.1" y2="84" stroke="#1e1a1b" stroke-width="1.3"/>
<line x1="819.0500000000001" y1="93.2" x2="819.0500000000001" y2="84" stroke="#1e1a1b" stroke-width="1.3"/>
<line x1="845.0" y1="93.2" x2="845.0" y2="75.8" stroke="#1e1a1b" stroke-width="2.4"/>
<line x1="870.95" y1="93.2" x2="870.95" y2="84" stroke="#1e1a1b" stroke-width="1.3"/>
<line x1="896.9000000000001" y1="93.2" x2="896.9000000000001" y2="84" stroke="#1e1a1b" stroke-width="1.3"/>
<line x1="922.85" y1="93.2" x2="922.85" y2="84" stroke="#1e1a1b" stroke-width="1.3"/>
<line x1="948.8000000000001" y1="93.2" x2="948.8000000000001" y2="75.8" stroke="#1e1a1b" stroke-width="2.4"/>
<line x1="107" y1="1902.5" x2="963" y2="1902.5" stroke="#1e1a1b" stroke-width="2.4"/>
<line x1="120.4" y1="1902.5" x2="120.4" y2="1883.8" stroke="#1e1a1b" stroke-width="2.4"/>
<line x1="146.3375" y1="1902.5" x2="146.3375" y2="1893" stroke="#1e1a1b" stroke-width="1.3"/>
<line x1="172.275" y1="1902.5" x2="172.275" y2="1893" stroke="#1e1a1b" stroke-width="1.3"/>
<line x1="198.2125" y1="1902.5" x2="198.2125" y2="1893" stroke="#1e1a1b" stroke-width="1.3"/>
<line x1="224.15" y1="1902.5" x2="224.15" y2="1883.8" stroke="#1e1a1b" stroke-width="2.4"/>
<line x1="250.0875" y1="1902.5" x2="250.0875" y2="1893" stroke="#1e1a1b" stroke-width="1.3"/>
<line x1="276.025" y1="1902.5" x2="276.025" y2="1893" stroke="#1e1a1b" stroke-width="1.3"/>
<line x1="301.9625" y1="1902.5" x2="301.9625" y2="1893" stroke="#1e1a1b" stroke-width="1.3"/>
<line x1="327.9" y1="1902.5" x2="327.9" y2="1883.8" stroke="#1e1a1b" stroke-width="2.4"/>
<line x1="353.8375" y1="1902.5" x2="353.8375" y2="1893" stroke="#1e1a1b" stroke-width="1.3"/>
<line x1="379.775" y1="1902.5" x2="379.775" y2="1893" stroke="#1e1a1b" stroke-width="1.3"/>
<line x1="405.7125" y1="1902.5" x2="405.7125" y2="1893" stroke="#1e1a1b" stroke-width="1.3"/>
<line x1="431.65" y1="1902.5" x2="431.65" y2="1883.8" stroke="#1e1a1b" stroke-width="2.4"/>
<line x1="457.5875" y1="1902.5" x2="457.5875" y2="1893" stroke="#1e1a1b" stroke-width="1.3"/>
<line x1="483.525" y1="1902.5" x2="483.525" y2="1893" stroke="#1e1a1b" stroke-width="1.3"/>
<line x1="509.4625" y1="1902.5" x2="509.4625" y2="1893" stroke="#1e1a1b" stroke-width="1.3"/>
<line x1="535.4" y1="1902.5" x2="535.4" y2="1883.8" stroke="#1e1a1b" stroke-width="2.4"/>
<line x1="561.3375" y1="1902.5" x2="561.3375" y2="1893" stroke="#1e1a1b" stroke-width="1.3"/>
<line x1="587.275" y1="1902.5" x2="587.275" y2="1893" stroke="#1e1a1b" stroke-width="1.3"/>
<line x1="613.2125" y1="1902.5" x2="613.2125" y2="1893" stroke="#1e1a1b" stroke-width="1.3"/>
<line x1="639.15" y1="1902.5" x2="639.15" y2="1883.8" stroke="#1e1a1b" stroke-width="2.4"/>
<line x1="665.0875" y1="1902.5" x2="665.0875" y2="1893" stroke="#1e1a1b" stroke-width="1.3"/>
<line x1="691.025" y1="1902.5" x2="691.025" y2="1893" stroke="#1e1a1b" stroke-width="1.3"/>
<line x1="716.9625" y1="1902.5" x2="716.9625" y2="1893" stroke="#1e1a1b" stroke-width="1.3"/>
<line x1="742.9" y1="1902.5" x2="742.9" y2="1883.8" stroke="#1e1a1b" stroke-width="2.4"/>
<line x1="768.8375" y1="1902.5" x2="768.8375" y2="1893" stroke="#1e1a1b" stroke-width="1.3"/>
<line x1="794.775" y1="1902.5" x2="794.775" y2="1893" stroke="#1e1a1b" stroke-width="1.3"/>
<line x1="820.7125" y1="1902.5" x2="820.7125" y2="1893" stroke="#1e1a1b" stroke-width="1.3"/>
<line x1="846.65" y1="1902.5" x2="846.65" y2="1883.8" stroke="#1e1a1b" stroke-width="2.4"/>
<line x1="872.5875" y1="1902.5" x2="872.5875" y2="1893" stroke="#1e1a1b" stroke-width="1.3"/>
<line x1="898.525" y1="1902.5" x2="898.525" y2="1893" stroke="#1e1a1b" stroke-width="1.3"/>
<line x1="924.4625" y1="1902.5" x2="924.4625" y2="1893" stroke="#1e1a1b" stroke-width="1.3"/>
<line x1="950.4" y1="1902.5" x2="950.4" y2="1883.8" stroke="#1e1a1b" stroke-width="2.4"/>
<line x1="118.6" y1="93.2" x2="118.6" y2="322.2" stroke="#1e1a1b" stroke-width="2.4"/>
<line x1="105.3" y1="149.8" x2="118.6" y2="149.8" stroke="#1e1a1b" stroke-width="2.4"/>
<line x1="105.3" y1="207.4" x2="118.6" y2="207.4" stroke="#1e1a1b" stroke-width="2.4"/>
<line x1="105.3" y1="264.8" x2="118.6" y2="264.8" stroke="#1e1a1b" stroke-width="2.4"/>
<line x1="105.3" y1="322.2" x2="118.6" y2="322.2" stroke="#1e1a1b" stroke-width="2.4"/>
<line x1="948.8" y1="93.2" x2="948.8" y2="322.2" stroke="#1e1a1b" stroke-width="2.4"/>
<line x1="948.8" y1="139.1" x2="962" y2="139.1" stroke="#1e1a1b" stroke-width="2.4"/>
<line x1="948.8" y1="184.7" x2="962" y2="184.7" stroke="#1e1a1b" stroke-width="2.4"/>
<line x1="948.8" y1="230.7" x2="962" y2="230.7" stroke="#1e1a1b" stroke-width="2.4"/>
<line x1="948.8" y1="276.4" x2="962" y2="276.4" stroke="#1e1a1b" stroke-width="2.4"/>
<line x1="948.8" y1="322.2" x2="962" y2="322.2" stroke="#1e1a1b" stroke-width="2.4"/>
<line x1="120.8" y1="335.3" x2="120.8" y2="773.7" stroke="#1e1a1b" stroke-width="2.4"/>
<line x1="107.2" y1="335.3" x2="120.8" y2="335.3" stroke="#1e1a1b" stroke-width="2.4"/>
<line x1="114" y1="365.94" x2="120.8" y2="365.94" stroke="#1e1a1b" stroke-width="2.4"/>
<line x1="114" y1="396.58000000000004" x2="120.8" y2="396.58000000000004" stroke="#1e1a1b" stroke-width="2.4"/>
<line x1="114" y1="427.22" x2="120.8" y2="427.22" stroke="#1e1a1b" stroke-width="2.4"/>
<line x1="114" y1="457.86" x2="120.8" y2="457.86" stroke="#1e1a1b" stroke-width="2.4"/>
<line x1="107.2" y1="488.5" x2="120.8" y2="488.5" stroke="#1e1a1b" stroke-width="2.4"/>
<line x1="114" y1="519.14" x2="120.8" y2="519.14" stroke="#1e1a1b" stroke-width="2.4"/>
<line x1="114" y1="549.78" x2="120.8" y2="549.78" stroke="#1e1a1b" stroke-width="2.4"/>
<line x1="114" y1="580.4200000000001" x2="120.8" y2="580.4200000000001" stroke="#1e1a1b" stroke-width="2.4"/>
<line x1="114" y1="611.06" x2="120.8" y2="611.06" stroke="#1e1a1b" stroke-width="2.4"/>
<line x1="107.2" y1="641.7" x2="120.8" y2="641.7" stroke="#1e1a1b" stroke-width="2.4"/>
<line x1="114" y1="672.34" x2="120.8" y2="672.34" stroke="#1e1a1b" stroke-width="2.4"/>
<line x1="114" y1="702.98" x2="120.8" y2="702.98" stroke="#1e1a1b" stroke-width="2.4"/>
<line x1="114" y1="733.62" x2="120.8" y2="733.62" stroke="#1e1a1b" stroke-width="2.4"/>
<line x1="114" y1="764.26" x2="120.8" y2="764.26" stroke="#1e1a1b" stroke-width="2.4"/>
<line x1="950.5" y1="335.3" x2="950.5" y2="775.5" stroke="#1e1a1b" stroke-width="2.4"/>
<line x1="950.5" y1="335.3" x2="963.6" y2="335.3" stroke="#1e1a1b" stroke-width="2.4"/>
<line x1="950.5" y1="364.44" x2="956.8" y2="364.44" stroke="#1e1a1b" stroke-width="2.4"/>
<line x1="950.5" y1="393.58" x2="956.8" y2="393.58" stroke="#1e1a1b" stroke-width="2.4"/>
<line x1="950.5" y1="422.72" x2="956.8" y2="422.72" stroke="#1e1a1b" stroke-width="2.4"/>
<line x1="950.5" y1="451.86" x2="956.8" y2="451.86" stroke="#1e1a1b" stroke-width="2.4"/>
<line x1="950.5" y1="481.0" x2="963.6" y2="481.0" stroke="#1e1a1b" stroke-width="2.4"/>
<line x1="950.5" y1="510.14" x2="956.8" y2="510.14" stroke="#1e1a1b" stroke-width="2.4"/>
<line x1="950.5" y1="539.28" x2="956.8" y2="539.28" stroke="#1e1a1b" stroke-width="2.4"/>
<line x1="950.5" y1="568.42" x2="956.8" y2="568.42" stroke="#1e1a1b" stroke-width="2.4"/>
<line x1="950.5" y1="597.56" x2="956.8" y2="597.56" stroke="#1e1a1b" stroke-width="2.4"/>
<line x1="950.5" y1="626.7" x2="963.6" y2="626.7" stroke="#1e1a1b" stroke-width="2.4"/>
<line x1="950.5" y1="655.8399999999999" x2="956.8" y2="655.8399999999999" stroke="#1e1a1b" stroke-width="2.4"/>
<line x1="950.5" y1="684.98" x2="956.8" y2="684.98" stroke="#1e1a1b" stroke-width="2.4"/>
<line x1="950.5" y1="714.1199999999999" x2="956.8" y2="714.1199999999999" stroke="#1e1a1b" stroke-width="2.4"/>
<line x1="950.5" y1="743.26" x2="956.8" y2="743.26" stroke="#1e1a1b" stroke-width="2.4"/>
<line x1="950.5" y1="772.4" x2="963.6" y2="772.4" stroke="#1e1a1b" stroke-width="2.4"/>
<line x1="121.6" y1="780.1" x2="121.6" y2="994.2" stroke="#1e1a1b" stroke-width="2.4"/>
<line x1="108.2" y1="780.1" x2="121.6" y2="780.1" stroke="#1e1a1b" stroke-width="2.4"/>
<line x1="108.2" y1="825.4" x2="121.6" y2="825.4" stroke="#1e1a1b" stroke-width="2.4"/>
<line x1="108.2" y1="870.7" x2="121.6" y2="870.7" stroke="#1e1a1b" stroke-width="2.4"/>
<line x1="108.2" y1="916.0" x2="121.6" y2="916.0" stroke="#1e1a1b" stroke-width="2.4"/>
<line x1="108.2" y1="961.3" x2="121.6" y2="961.3" stroke="#1e1a1b" stroke-width="2.4"/>
<line x1="121.2" y1="1000.8" x2="121.2" y2="1337.1" stroke="#1e1a1b" stroke-width="2.4"/>
<line x1="107.6" y1="1034.1" x2="121.2" y2="1034.1" stroke="#1e1a1b" stroke-width="2.4"/>
<line x1="107.6" y1="1101.6" x2="121.2" y2="1101.6" stroke="#1e1a1b" stroke-width="2.4"/>
<line x1="107.6" y1="1169.1" x2="121.2" y2="1169.1" stroke="#1e1a1b" stroke-width="2.4"/>
<line x1="107.6" y1="1236.6" x2="121.2" y2="1236.6" stroke="#1e1a1b" stroke-width="2.4"/>
<line x1="107.6" y1="1304.1" x2="121.2" y2="1304.1" stroke="#1e1a1b" stroke-width="2.4"/>
<line x1="955.1" y1="1251.1" x2="955.1" y2="1563.2" stroke="#1e1a1b" stroke-width="2.4"/>
<line x1="955.1" y1="1251.1" x2="968" y2="1251.1" stroke="#1e1a1b" stroke-width="2.4"/>
<line x1="955.1" y1="1317.85" x2="968" y2="1317.85" stroke="#1e1a1b" stroke-width="2.4"/>
<line x1="955.1" y1="1384.6" x2="968" y2="1384.6" stroke="#1e1a1b" stroke-width="2.4"/>
<line x1="955.1" y1="1451.35" x2="968" y2="1451.35" stroke="#1e1a1b" stroke-width="2.4"/>
<line x1="955.1" y1="1518.1" x2="968" y2="1518.1" stroke="#1e1a1b" stroke-width="2.4"/>
<line x1="121.6" y1="1540.8" x2="121.6" y2="1851.2" stroke="#1e1a1b" stroke-width="2.4"/>
<line x1="100.3" y1="1592.3" x2="121.6" y2="1592.3" stroke="#1e1a1b" stroke-width="2.4"/>
<line x1="100.3" y1="1644.08" x2="121.6" y2="1644.08" stroke="#1e1a1b" stroke-width="2.4"/>
<line x1="100.3" y1="1695.86" x2="121.6" y2="1695.86" stroke="#1e1a1b" stroke-width="2.4"/>
<line x1="100.3" y1="1747.64" x2="121.6" y2="1747.64" stroke="#1e1a1b" stroke-width="2.4"/>
<line x1="100.3" y1="1799.42" x2="121.6" y2="1799.42" stroke="#1e1a1b" stroke-width="2.4"/>
<line x1="100.3" y1="1851.2" x2="121.6" y2="1851.2" stroke="#1e1a1b" stroke-width="2.4"/>
</svg>
</body></html>
